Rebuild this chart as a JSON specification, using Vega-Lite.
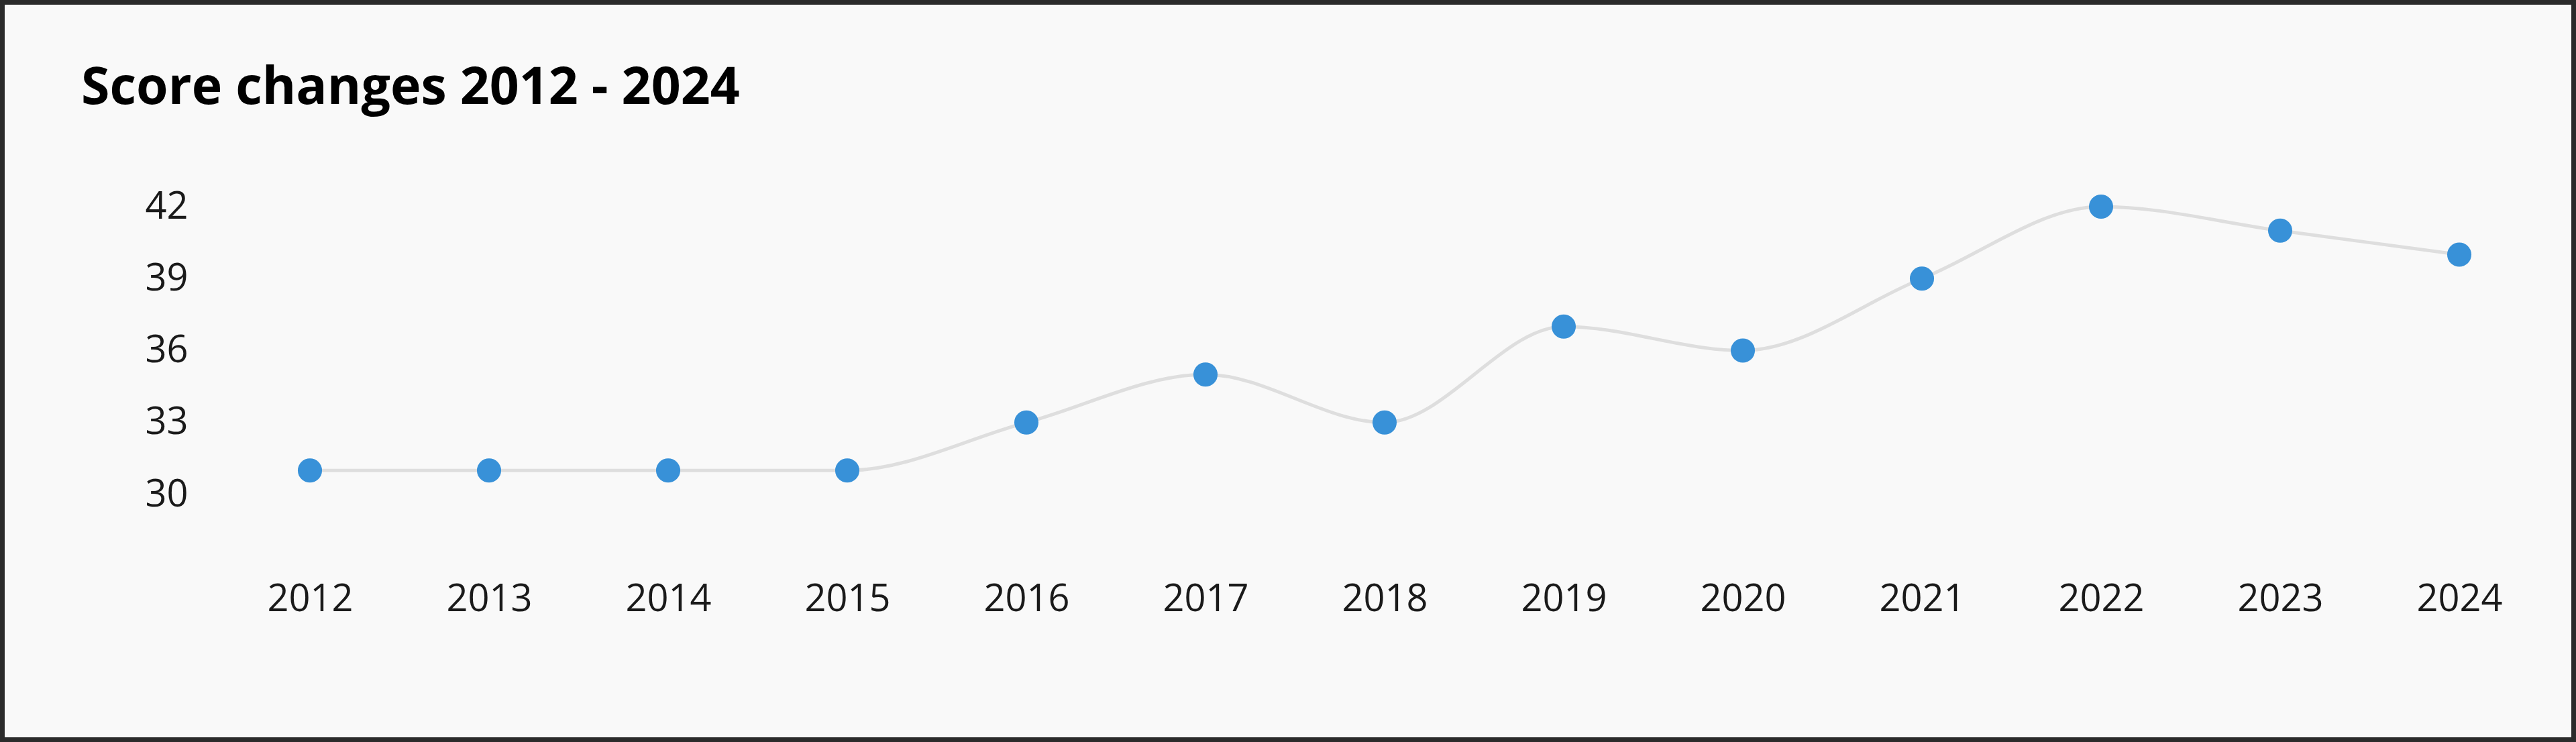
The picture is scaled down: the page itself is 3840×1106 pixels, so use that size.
{
  "$schema": "https://vega.github.io/schema/vega-lite/v6.json",
  "width": 3840,
  "height": 1106,
  "autosize": {"type": "none"},
  "padding": 0,
  "background": "#f9f9f9",
  "title": {
    "text": "Score changes 2012 - 2024",
    "anchor": "start",
    "frame": "group",
    "font": "Open Sans",
    "fontSize": 77,
    "fontWeight": "bold",
    "color": "#000000",
    "baseline": "alphabetic",
    "offset": -232,
    "dx": 121
  },
  "data": {
    "values": [
      {"year": "2012", "score": 31},
      {"year": "2013", "score": 31},
      {"year": "2014", "score": 31},
      {"year": "2015", "score": 31},
      {"year": "2016", "score": 33},
      {"year": "2017", "score": 35},
      {"year": "2018", "score": 33},
      {"year": "2019", "score": 37},
      {"year": "2020", "score": 36},
      {"year": "2021", "score": 39},
      {"year": "2022", "score": 42},
      {"year": "2023", "score": 41},
      {"year": "2024", "score": 40}
    ]
  },
  "encoding": {
    "x": {
      "field": "year",
      "type": "ordinal",
      "scale": {"type": "point", "range": [462, 3666], "padding": 0},
      "axis": {
        "title": null,
        "labelAngle": 0,
        "domain": false,
        "ticks": false,
        "grid": false,
        "offset": -213,
        "labelPadding": 0,
        "labelBaseline": "middle",
        "labelFont": "Open Sans",
        "labelFontSize": 56,
        "labelColor": "#1a1a1a"
      }
    },
    "y": {
      "field": "score",
      "type": "quantitative",
      "scale": {"domain": [30, 42], "range": [737, 308], "zero": false, "nice": false},
      "axis": {
        "title": null,
        "values": [30, 33, 36, 39, 42],
        "domain": false,
        "ticks": false,
        "grid": false,
        "offset": -280,
        "labelPadding": 0,
        "labelFont": "Open Sans",
        "labelFontSize": 56,
        "labelColor": "#1a1a1a"
      }
    }
  },
  "layer": [
    {
      "mark": {"type": "line", "interpolate": "monotone", "color": "#dedede", "strokeWidth": 5}
    },
    {
      "mark": {"type": "circle", "color": "#3891d8", "opacity": 1, "size": 1300}
    }
  ],
  "config": {
    "view": {"stroke": "#2b2b2b", "strokeWidth": 14, "fill": "#f9f9f9"}
  }
}
